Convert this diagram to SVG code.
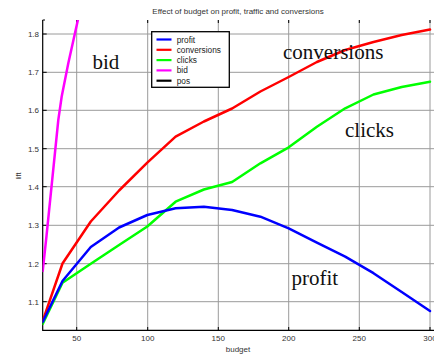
<svg xmlns="http://www.w3.org/2000/svg" width="434" height="356" viewBox="0 0 434 356">
<style>
.grid{stroke:#9a9a9a;stroke-width:1;fill:none}
.axis{stroke:#000;stroke-width:1.2;fill:none}
.tick{stroke:#000;stroke-width:1;fill:none}
.lbl{font-family:"Liberation Sans",Arial,sans-serif;font-size:8px;fill:#333}
.big{font-family:"Liberation Serif","Times New Roman",serif;font-size:21px;fill:#111}
.curve{fill:none;stroke-width:2.5;stroke-linejoin:round;stroke-linecap:round}
.leg{font-family:"Liberation Sans",Arial,sans-serif;font-size:8.3px;fill:#222}
</style>
<defs>
<clipPath id="plot"><rect x="42.5" y="20" width="392" height="310"/></clipPath>
</defs>
<rect width="434" height="356" fill="#fff"/>
<g id="grid">
<path class="grid" d="M76.7 20V330M147.7 20V330M218.3 20V330M288.7 20V330M359.3 20V330M430 20V330"/>
<path class="grid" d="M42.5 34H434M42.5 72.3H434M42.5 110.3H434M42.5 148.7H434M42.5 186.7H434M42.5 225.3H434M42.5 263.7H434M42.5 301.7H434"/>
</g>
<g id="axes">
<path class="axis" d="M42.7 20V330.3H434"/>
<path class="tick" d="M42.7 20H45M76.7 330V327M147.7 330V327M218.3 330V327M288.7 330V327M359.3 330V327M430 330V327M76.7 20V23M147.7 20V23M218.3 20V23M288.7 20V23M359.3 20V23M430 20V23M42.7 34H46.7M42.7 72.3H46.7M42.7 110.3H46.7M42.7 148.7H46.7M42.7 186.7H46.7M42.7 225.3H46.7M42.7 263.7H46.7M42.7 301.7H46.7"/>
<g class="lbl" text-anchor="end">
<text x="39" y="37">1.8</text>
<text x="39" y="75.3">1.7</text>
<text x="39" y="113.3">1.6</text>
<text x="39" y="151.7">1.5</text>
<text x="39" y="189.7">1.4</text>
<text x="39" y="228.3">1.3</text>
<text x="39" y="266.7">1.2</text>
<text x="39" y="304.7">1.1</text>
</g>
<g class="lbl" text-anchor="middle">
<text x="76.7" y="340.5">50</text>
<text x="147.7" y="340.5">100</text>
<text x="218.3" y="340.5">150</text>
<text x="288.7" y="340.5">200</text>
<text x="359.3" y="340.5">250</text>
<text x="430" y="340.5">300</text>
<text x="238" y="352">budget</text>
<text x="0" y="0" transform="translate(20.5 176) rotate(-90)" font-size="7px">lift</text>
</g>
<text class="lbl" x="238" y="13.5" text-anchor="middle" font-size="8.4px" fill="#222">Effect of budget on profit, traffic and conversions</text>
</g>
<g id="connectors" clip-path="url(#plot)">
<polyline id="bid-curve" class="curve" stroke="#ff00ff" points="42.7,271 46.5,236 58.3,120 61.7,96.5 68.3,63.3 79,15"/>
<polyline id="conversions-curve" class="curve" stroke="#ff0000" points="42.7,321 62.5,263.5 90.8,221.5 119.1,190.5 147.3,162.7 175.6,136.7 203.9,121.5 232.1,108.5 260.4,91.5 288.7,77 316.9,62 345.2,50 373.5,42 401.7,35 430,29.5"/>
<polyline id="clicks-curve" class="curve" stroke="#00ff00" points="42.7,324 62.5,282.7 90.8,263.8 119.1,245 147.3,226.5 175.6,201.7 203.9,189.5 232.1,182 260.4,163.3 288.7,147.3 316.9,126.7 345.2,108.3 373.5,94.5 401.7,87 430,81.7"/>
<polyline id="profit-curve" class="curve" stroke="#0000ff" points="42.7,322 62.5,281 90.8,247 119.1,227.5 147.3,215 175.6,208.3 203.9,206.7 232.1,210 260.4,216.7 288.7,228.3 316.9,242.6 345.2,256.6 373.5,273.2 401.7,292 430,311"/>
</g>
<g id="label-bid"><text class="big" x="92.5" y="68.5">bid</text></g>
<g id="label-conversions"><text class="big" x="283" y="58.5">conversions</text></g>
<g id="label-clicks"><text class="big" x="345" y="137">clicks</text></g>
<g id="label-profit"><text class="big" x="291.5" y="284.5">profit</text></g>
<g id="legend">
<rect x="151.7" y="31.7" width="77.6" height="55.6" fill="#fff" stroke="#000" stroke-width="1.3"/>
<g stroke-width="2.2">
<line x1="156.5" y1="39.5" x2="171.5" y2="39.5" stroke="#0000ff"/>
<line x1="156.5" y1="49.8" x2="171.5" y2="49.8" stroke="#ff0000"/>
<line x1="156.5" y1="60.1" x2="171.5" y2="60.1" stroke="#00ff00"/>
<line x1="156.5" y1="70.4" x2="171.5" y2="70.4" stroke="#ff00ff"/>
<line x1="156.5" y1="80.7" x2="171.5" y2="80.7" stroke="#000"/>
</g>
<text class="leg" x="176.7" y="42.5">profit</text>
<text class="leg" x="176.7" y="52.8">conversions</text>
<text class="leg" x="176.7" y="63.1">clicks</text>
<text class="leg" x="176.7" y="73.4">bid</text>
<text class="leg" x="176.7" y="83.7">pos</text>
</g>
</svg>
